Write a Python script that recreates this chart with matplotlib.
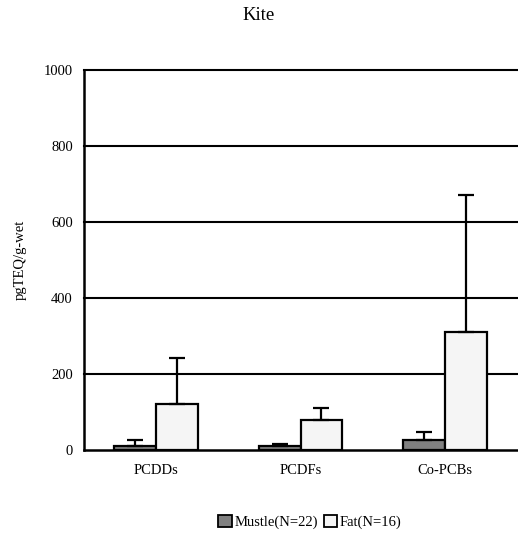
import matplotlib
matplotlib.use("Agg")
import matplotlib.pyplot as plt
import numpy as np
from matplotlib.patches import Patch

plt.rcParams['font.family'] = ['Liberation Serif', 'DejaVu Serif']

categories = ["PCDDs", "PCDFs", "Co-PCBs"]
mustle = [11, 11, 26]
mustle_err = [15, 5, 21]
fat = [121, 79, 310]
fat_err = [120, 31, 360]
yticks = [0, 200, 400, 600, 800, 1000]

fig = plt.figure(figsize=(5.18, 5.39), dpi=100)
ax = fig.add_axes([84/518, 1-450/539, 433/518, 380/539])

x = np.arange(len(categories))
w = 0.29
ekw = dict(ecolor="black", elinewidth=1.6, capsize=5.5, capthick=1.6)
ax.bar(x - w/2, mustle, w, color="#808080", edgecolor="black", linewidth=1.6, zorder=3,
       yerr=[np.zeros(3), mustle_err], error_kw=ekw)
ax.bar(x + w/2, fat, w, color="#f5f5f5", edgecolor="black", linewidth=1.6, zorder=3,
       yerr=[np.zeros(3), fat_err], error_kw=ekw)

ax.set_xlim(-0.5, 2.5)
ax.set_ylim(0, 1000)
ax.set_yticks(yticks)
ax.set_yticklabels([str(v) for v in yticks], fontsize=10.5)
ax.set_xticks(x)
ax.set_xticklabels(categories, fontsize=10.5)
ax.tick_params(length=0, pad=8)
ax.tick_params(axis='x', pad=10)
for v in yticks[1:]:
    ax.axhline(v, color="black", linewidth=1.5, zorder=1, clip_on=False)
ax.spines['top'].set_visible(False)
ax.spines['right'].set_visible(False)
ax.spines['left'].set_linewidth(1.8)
ax.spines['bottom'].set_linewidth(1.8)

ax.set_ylabel("pgTEQ/g-wet", fontsize=10.5, labelpad=12)
fig.text(0.5, 1-15/539, "Kite", ha="center", va="center", fontsize=13.5)

handles = [Patch(facecolor="#808080", edgecolor="black", linewidth=1.3, label="Mustle(N=22)"),
           Patch(facecolor="#f5f5f5", edgecolor="black", linewidth=1.3, label="Fat(N=16)")]
fig.legend(handles=handles, loc="center", bbox_to_anchor=(310/518, 1-522/539), ncol=2,
           frameon=False, fontsize=10.5, handlelength=0.9, handleheight=0.9, handletextpad=0.2,
           columnspacing=0.4)

fig.savefig("out.png", dpi=100)
